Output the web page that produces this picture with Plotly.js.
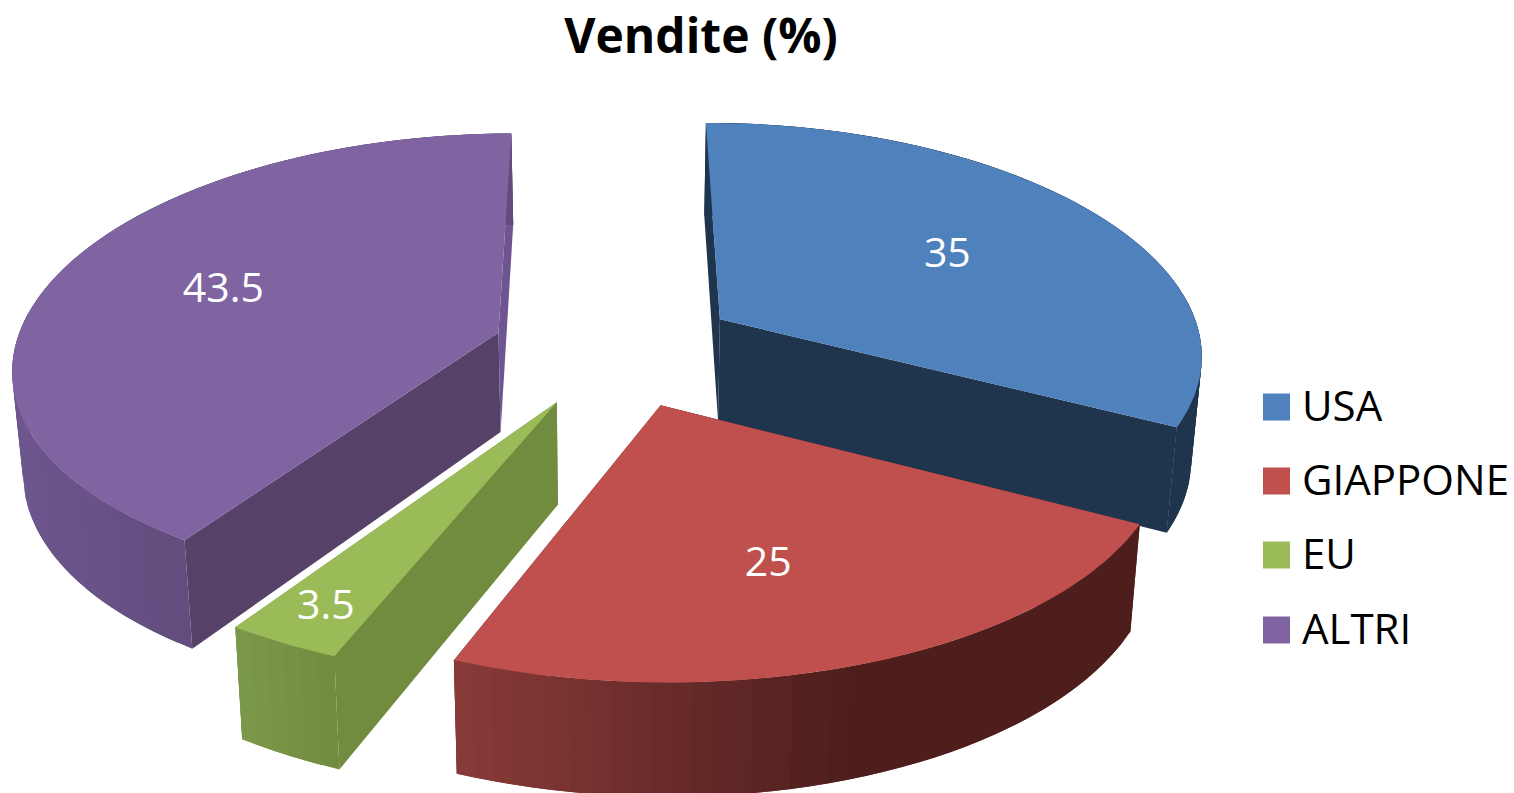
<!DOCTYPE html>
<html>
<head>
<meta charset="utf-8">
<script src="https://cdn.plot.ly/plotly-3.0.1.min.js"></script>
<style>html,body{margin:0;padding:0;background:#fff}#chart{width:1514px;height:793px}</style>
</head>
<body>
<div id="chart"></div>
<script>
// --- data ---
const categories = ['USA', 'GIAPPONE', 'EU', 'ALTRI'];
const values = [35, 25, 3.5, 43.5];
const chartTitle = 'Vendite (%)';
const topColors = ['#4F81BD', '#C0504D', '#9BBB59', '#8064A2'];
const faceColors = ['#1F344D', '#4E1E1D', '#718B3F', '#564268'];

// --- projection of the tilted pie on to the page ---
const view = {x0: 616, y0: 349, rx: 484, ry: 227.6, px: 0.14, py: 0.124, pull: 0.256, spin: -0.2};
const labelRadius = [0.595, 0.63, 0.86, 0.63];
const labelTurn = [0, 3, 0, 2];
const wallExtra = [2, 0, 0, 0];
const rimShade = [
  {x0: 700, x1: 1200, c0: [31,52,77], c1: [31,52,77]},
  {x0: 452, x1: 850, c0: [137,59,56], c1: [78,30,29]},
  {x0: 236, x1: 345, c0: [124,152,74], c1: [112,138,62]},
  {x0: 13, x1: 195, c0: [110,86,142], c1: [97,76,124]}
];

const total = values.reduce((a, b) => a + b, 0);
const deg = Math.PI / 180;
let acc = 0;
const slices = values.map((v, i) => {
  const a0 = acc / total * 360 + view.spin; acc += v;
  const a1 = acc / total * 360 + view.spin;
  const mid = (a0 + a1) / 2;
  return {i, a0, a1, mid, ox: view.pull * Math.sin(mid * deg), oy: view.pull * Math.cos(mid * deg)};
});

function project(X, Y) {
  return [view.x0 + view.rx * X / (1 + view.px * Y), view.y0 - view.ry * Y / (1 + view.py * Y)];
}
function topPoint(s, a, r) {
  return project(s.ox + r * Math.sin(a * deg), s.oy + r * Math.cos(a * deg));
}
function drop(pt, idx) {
  return [view.x0 + 0.982 * (pt[0] - view.x0), pt[1] + 99 + wallExtra[idx] + 0.042 * (pt[1] - 318)];
}
function poly(points, color) {
  const xs = points.map(p => p[0]), ys = points.map(p => p[1]);
  xs.push(xs[0]); ys.push(ys[0]);
  return {
    type: 'scatter', mode: 'lines', x: xs, y: ys, fill: 'toself', fillcolor: color,
    line: {color: color, width: 0}, hoverinfo: 'skip', showlegend: false
  };
}
function shade(i, x) {
  const sh = rimShade[i];
  const t = Math.max(0, Math.min(1, (x - sh.x0) / (sh.x1 - sh.x0)));
  const c = sh.c0.map((c0, k) => Math.round(c0 + (sh.c1[k] - c0) * t));
  return 'rgb(' + c.join(',') + ')';
}

const traces = [];
[0, 3, 1, 2].forEach(idx => {
  const s = slices[idx];
  const apex = topPoint(s, 0, 0);
  // cut faces
  [s.a0, s.a1].forEach(a => {
    const e = topPoint(s, a, 1);
    const col = (idx === 3 && a === s.a1) ? '#6E5490' : faceColors[idx];
    traces.push(poly([apex, e, drop(e, idx), drop(apex, idx)], col));
  });
  // outer wall, in narrow overlapping strips so that no seams show
  const step = (s.a1 - s.a0) / Math.max(4, Math.round((s.a1 - s.a0) / 2));
  for (let a = s.a0; a < s.a1 - 1e-6; a += step) {
    const pts = [];
    const end = Math.min(s.a1, a + step * 2);
    for (let b = a; b <= end + 1e-6; b += step / 2) pts.push(topPoint(s, Math.min(b, end), 1));
    const mid = topPoint(s, a + step / 2, 1);
    const lower = pts.slice().reverse().map(p => drop(p, idx));
    traces.push(poly(pts.concat(lower), shade(idx, mid[0])));
  }
  // top surface
  const outline = [apex];
  for (let a = s.a0; a < s.a1; a += 1) outline.push(topPoint(s, a, 1));
  outline.push(topPoint(s, s.a1, 1));
  traces.push(poly(outline, topColors[idx]));
});

// value labels on the slices
const labelPts = slices.map(s => topPoint(s, s.mid + labelTurn[s.i], labelRadius[s.i]));
traces.push({
  type: 'scatter', mode: 'text',
  x: labelPts.map(p => p[0]), y: labelPts.map(p => p[1] + 3),
  text: values.map(String), textposition: 'middle center',
  textfont: {family: 'Open Sans, sans-serif', size: 41, color: '#ffffff'},
  hoverinfo: 'skip', showlegend: false
});

// legend column
const legendY = [407, 481, 555, 630];
traces.push({
  type: 'scatter', mode: 'markers',
  x: categories.map(() => 1276.5), y: legendY,
  marker: {symbol: 'square', size: 27, color: topColors, line: {width: 0}},
  hoverinfo: 'skip', showlegend: false
});
traces.push({
  type: 'scatter', mode: 'text',
  x: categories.map(() => 1302), y: legendY.map(v => v + 3), text: categories,
  textposition: 'middle right',
  textfont: {family: 'Open Sans, sans-serif', size: 42, color: '#000000'},
  hoverinfo: 'skip', showlegend: false
});

const hiddenAxis = {visible: false, showgrid: false, zeroline: false, fixedrange: true};
Plotly.newPlot('chart', traces, {
  width: 1514, height: 793,
  margin: {l: 0, r: 0, t: 0, b: 0},
  paper_bgcolor: '#ffffff', plot_bgcolor: '#ffffff',
  showlegend: false,
  title: {
    text: '<b>' + chartTitle + '</b>', x: 701 / 1514, xanchor: 'center',
    y: 1 - 36 / 793, yanchor: 'middle',
    font: {family: 'Open Sans, sans-serif', size: 48, color: '#000000'}
  },
  xaxis: Object.assign({range: [0, 1514]}, hiddenAxis),
  yaxis: Object.assign({range: [793, 0]}, hiddenAxis)
}, {displayModeBar: false, staticPlot: true});
</script>
</body>
</html>
